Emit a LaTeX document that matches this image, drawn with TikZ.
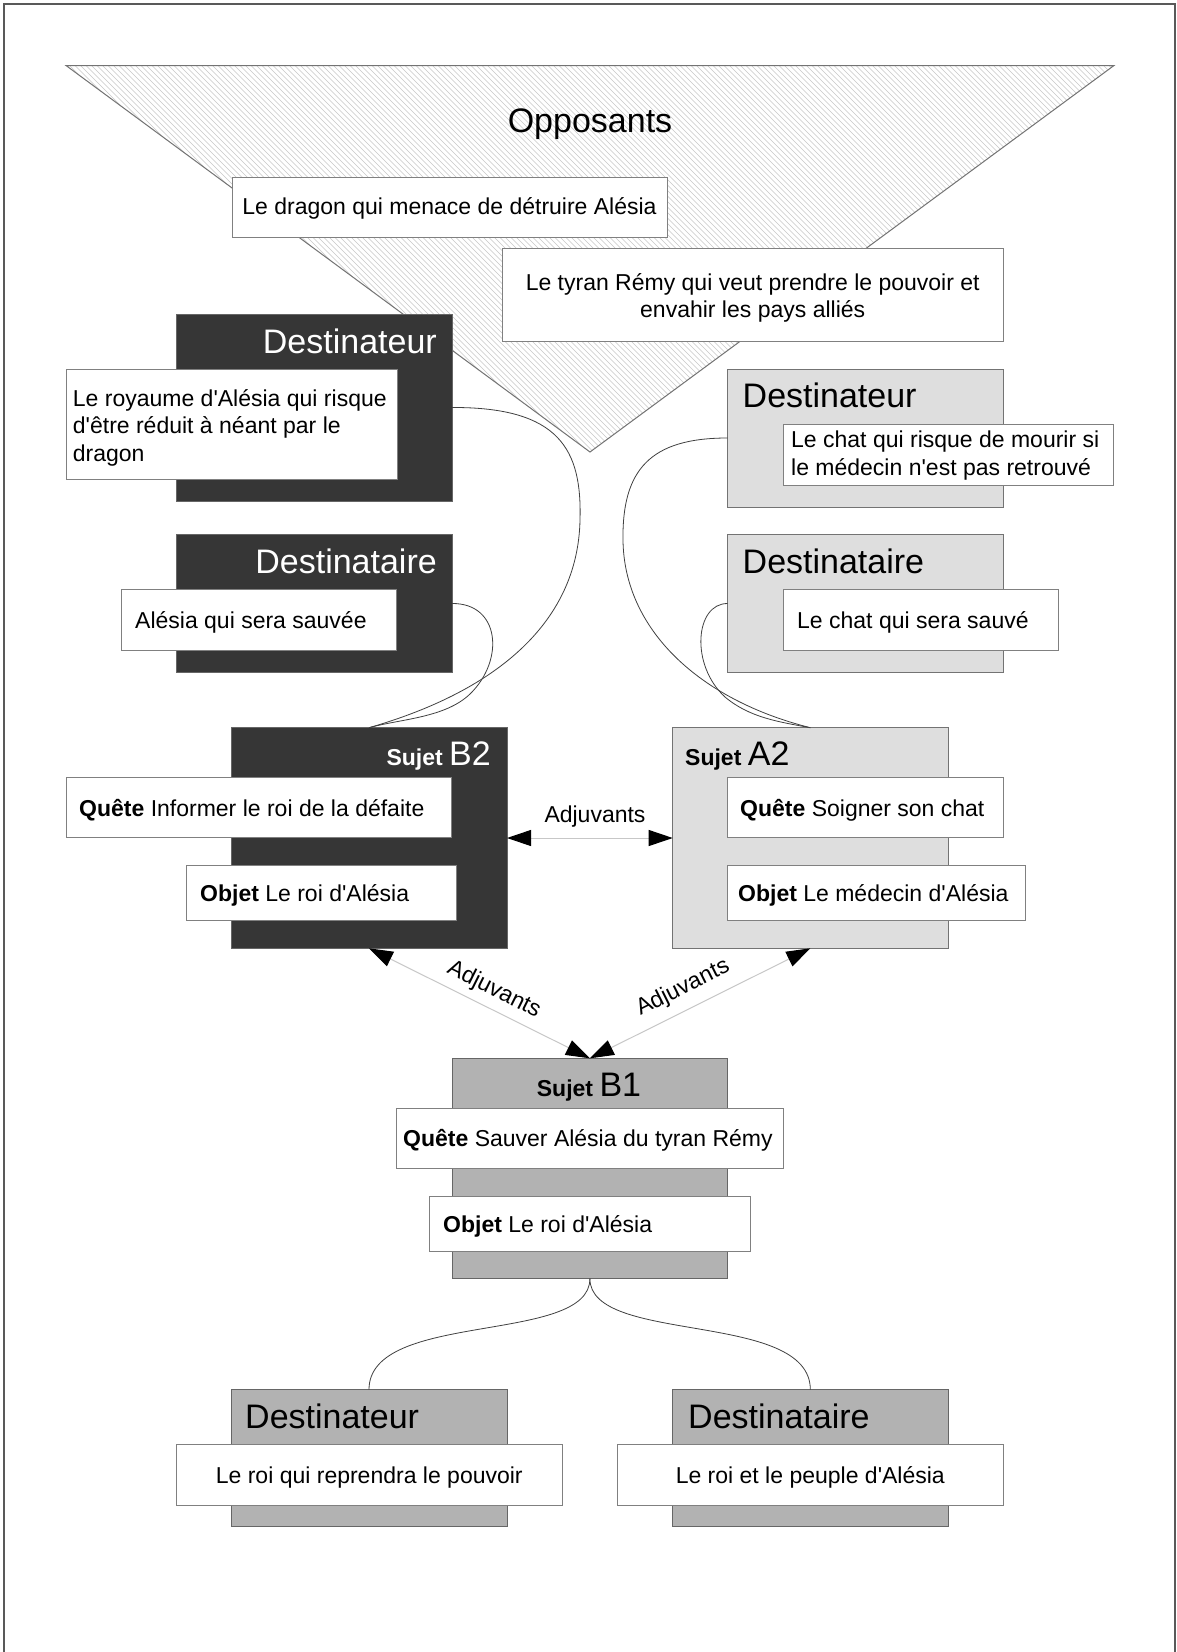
\documentclass[tikz,border=0pt]{standalone}
\usepackage{fontspec}
\setmainfont{Liberation Sans}[Ligatures=TeXOff]
\usetikzlibrary{arrows.meta,fit}
\newcommand\bodyfont{\fontsize{23}{27.5}\selectfont}
\newcommand\titlefont{\fontsize{34}{40}\selectfont}
\newcommand\mlleft[1]{\begin{tabular}[t]{@{}l@{}}#1\end{tabular}}
\newcommand\mlcenter[1]{\begin{tabular}[t]{@{}c@{}}#1\end{tabular}}
\tikzset{
  box/.style={inner sep=0pt, outer sep=0pt, line width=1pt},
  darkbox/.style={box, fill=black!79, draw=black!60},
  lightbox/.style={box, fill=black!13, draw=black!55},
  midbox/.style={box, fill=black!30, draw=black!60},
  wbox/.style={box, fill=white, draw=black!50},
  txt/.style={inner sep=0pt, font=\bodyfont},
  ttl/.style={inner sep=0pt, font=\titlefont},
  conn/.style={draw=black!75, line width=0.8pt},
  hatch/.style={draw=black!22, line width=0.6pt},
  adj/.style={draw=black!22, line width=1pt,
    arrows={Triangle[length=24pt,width=16pt,color=black]-Triangle[length=24pt,width=16pt,color=black]}},
}
\begin{document}
\begin{tikzpicture}[x=1pt,y=-1pt]
\useasboundingbox (0,0) rectangle (1176,1652);
\fill[white] (0,0) rectangle (1176,1652);
% frame
\draw[black!65, line width=1.5pt] (4,1652) -- (4,4) -- (1175,4) -- (1175,1652);

% opponents triangle with hatching
\begin{scope}
  \clip (66,65.5) -- (1114,65.5) -- (590,452) -- cycle;
  \foreach \k in {-420,-414.5,...,1120} \draw[hatch] (\k,60) -- ++(400,400);
\end{scope}
\draw[black!55, line width=1pt] (66,65.5) -- (1114,65.5) -- (590,452) -- cycle;
\node[ttl, anchor=base] (opp) at (590,132) {Opposants};

\node[wbox, fit={(232,177) (667,237)}] (dragon) {};
\node[txt, anchor=base] (dragonT) at (449.5,214) {Le dragon qui menace de détruire Alésia};
\node[wbox, fit={(502,248) (1003.5,341.7)}] (tyran) {};
\node[txt, anchor=base] (tyranT) at (752.7,290) {\mlcenter{Le tyran Rémy qui veut prendre le pouvoir et\\envahir les pays alliés}};

% left (dark) column
\node[darkbox, fit={(176,314) (452,501)}] (dDtr) {};
\node[ttl, text=white, anchor=base east] (dDtrT) at (437,353) {Destinateur};
\node[wbox, fit={(66,369) (397,479)}] (royaume) {};
\node[txt, anchor=base west] (royaumeT) at (72.7,406) {\mlleft{Le royaume d'Alésia qui risque\\d'être réduit à néant par le\\dragon}};

\node[darkbox, fit={(176,534.3) (452,672.7)}] (dDta) {};
\node[ttl, text=white, anchor=base east] (dDtaT) at (437,573) {Destinataire};
\node[wbox, fit={(121.5,589.3) (396,650.3)}] (alesia) {};
\node[txt, anchor=base west] (alesiaT) at (135,628) {Alésia qui sera sauvée};

% right (light) column
\node[lightbox, fit={(727.5,369) (1003.5,507)}] (lDtr) {};
\node[ttl, anchor=base west] (lDtrT) at (742.5,407) {Destinateur};
\node[wbox, fit={(783.7,424.3) (1113.7,485)}] (chat) {};
\node[txt, anchor=base west] (chatT) at (791,447.5) {\mlleft{Le chat qui risque de mourir si\\le médecin n'est pas retrouvé}};

\node[lightbox, fit={(727.5,534.3) (1003.5,672.7)}] (lDta) {};
\node[ttl, anchor=base west] (lDtaT) at (742.5,573) {Destinataire};
\node[wbox, fit={(783.7,589.3) (1058.3,650.3)}] (chatS) {};
\node[txt, anchor=base west] (chatST) at (797,628) {Le chat qui sera sauvé};

% Sujet B2
\node[darkbox, fit={(231,727.7) (507,948.3)}] (B2) {};
\node[txt, text=white, anchor=base east] (B2T) at (491,765) {\textbf{Sujet} {\titlefont B2}};
\node[wbox, fit={(66,777.7) (451.5,837.7)}] (qB2) {};
\node[txt, anchor=base west] (qB2T) at (79,816) {\textbf{Quête} Informer le roi de la défaite};
\node[wbox, fit={(186.7,865.7) (456.7,920.7)}] (oB2) {};
\node[txt, anchor=base west] (oB2T) at (200,901) {\textbf{Objet} Le roi d'Alésia};

% Sujet A2
\node[lightbox, fit={(672.7,727.7) (948,948.3)}] (A2) {};
\node[txt, anchor=base west] (A2T) at (685,765) {\textbf{Sujet} {\titlefont A2}};
\node[wbox, fit={(727.5,777.7) (1003.5,837.7)}] (qA2) {};
\node[txt, anchor=base west] (qA2T) at (740,816) {\textbf{Quête} Soigner son chat};
\node[wbox, fit={(727.5,865.7) (1025,920.7)}] (oA2) {};
\node[txt, anchor=base west] (oA2T) at (738,901) {\textbf{Objet} Le médecin d'Alésia};

% Sujet B1
\node[midbox, fit={(452.3,1058.3) (727.5,1278.6)}] (B1) {};
\node[txt, anchor=base] (B1T) at (589,1096) {\textbf{Sujet} {\titlefont B1}};
\node[wbox, fit={(396.7,1108) (783,1168.8)}] (qB1) {};
\node[txt, anchor=base west] (qB1T) at (403,1146.5) {\textbf{Quête} Sauver Alésia du tyran Rémy};
\node[wbox, fit={(429.8,1196.3) (750,1251.6)}] (oB1) {};
\node[txt, anchor=base west] (oB1T) at (443,1232) {\textbf{Objet} Le roi d'Alésia};

% bottom boxes
\node[midbox, fit={(231,1389.6) (507,1526.5)}] (bDtr) {};
\node[ttl, anchor=base west] (bDtrT) at (245,1428) {Destinateur};
\node[wbox, fit={(176,1444) (562.5,1505)}] (roi) {};
\node[txt, anchor=base] (roiT) at (369.3,1483) {Le roi qui reprendra le pouvoir};

\node[midbox, fit={(672.7,1389.6) (948,1526.5)}] (bDta) {};
\node[ttl, anchor=base west] (bDtaT) at (688,1428) {Destinataire};
\node[wbox, fit={(617,1444) (1003.5,1505)}] (peuple) {};
\node[txt, anchor=base] (peupleT) at (810.3,1483) {Le roi et le peuple d'Alésia};

% curved connectors
\draw[conn] (dDtr.east) .. controls (560,407) and (582,450) .. (580,520)
  .. controls (578,620) and (500,690) .. (B2.north);
\draw[conn] (dDta.east) .. controls (500,603) and (505,660) .. (470,694)
  .. controls (445,718) and (400,719) .. (B2.north);
\draw[conn] (lDtr.west) .. controls (650,438) and (622,470) .. (623,540)
  .. controls (624,630) and (700,700) .. (A2.north);
\draw[conn] (lDta.west) .. controls (695,603.5) and (690,665) .. (725,697)
  .. controls (750,718) and (780,722) .. (A2.north);
\draw[conn] (B1.south) .. controls (590,1345) and (369,1310) .. (bDtr.north);
\draw[conn] (B1.south) .. controls (590,1345) and (810,1310) .. (bDta.north);

% adjuvants arrows
\draw[adj] (B2.east) -- (A2.west);
\node[txt, anchor=base] (adjH) at (595,822) {Adjuvants};
\draw[adj] (B2.south) -- (B1.north);
\node[txt, rotate=-26.6] (adjL) at (494,990) {Adjuvants};
\draw[adj] (A2.south) -- (B1.north);
\node[txt, rotate=26.6] (adjR) at (683,988) {Adjuvants};
\end{tikzpicture}
\end{document}
